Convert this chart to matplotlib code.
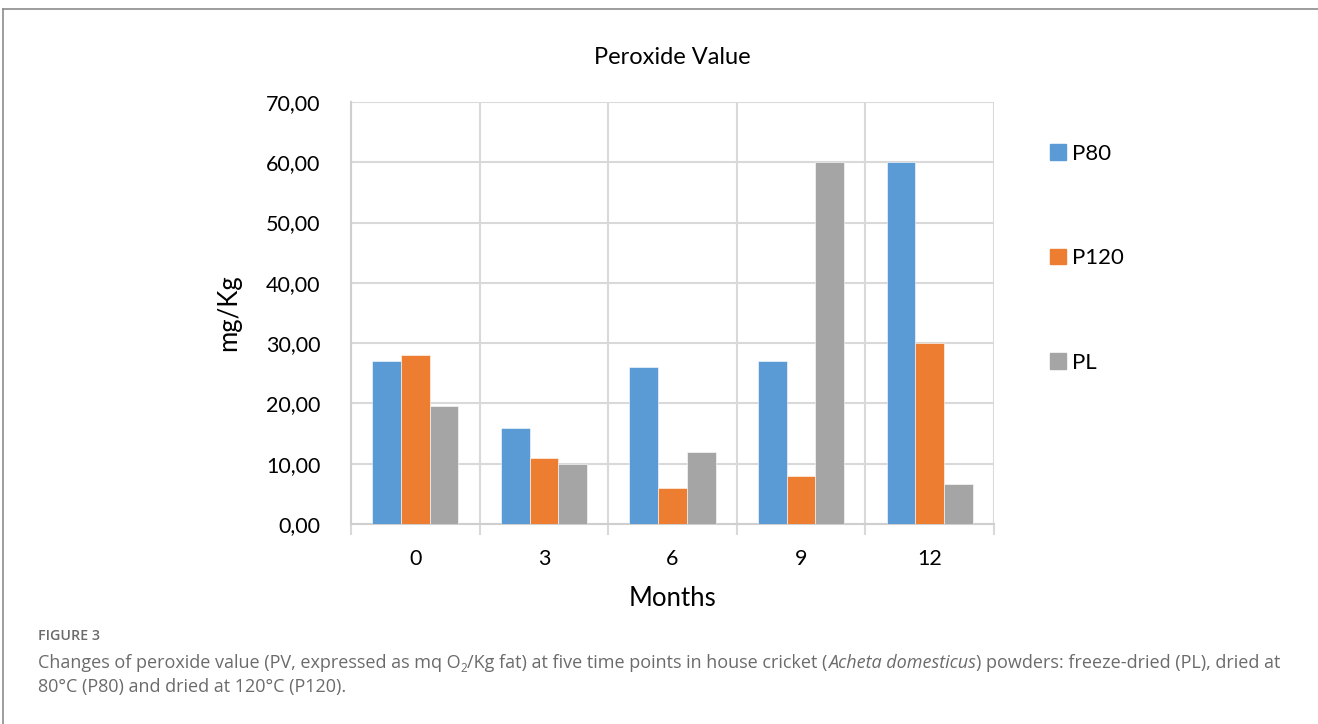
"""Peroxide value of cricket powders over 12 months of storage."""

import matplotlib

matplotlib.use("Agg")
import matplotlib.pyplot as plt
import numpy as np
from matplotlib.lines import Line2D
from matplotlib.patches import Patch

months = ["0", "3", "6", "9", "12"]
p80 = [27.0, 16.0, 26.0, 27.0, 60.0]
p120 = [28.0, 11.0, 6.0, 8.0, 30.0]
pl = [19.6, 10.0, 12.0, 60.0, 6.6]
series_names = ["P80", "P120", "PL"]
y_ticks = [0, 10, 20, 30, 40, 50, 60, 70]

COLORS = ["#5B9BD5", "#ED7D31", "#A5A5A5"]
GRID = "#D9D9D9"
CHART_FONT = ["Lato", "DejaVu Sans"]
CAPTION_FONT = ["Open Sans", "DejaVu Sans"]
CAPTION_COLOR = "#6b6b6b"

W, H = 1318, 724
fig = plt.figure(figsize=(W / 100, H / 100), dpi=100)


def px(x, y):
    return x / W, 1 - y / H


# page frame (top and left rules)
fig.add_artist(Line2D([3 / W, 1], [1 - 9 / H, 1 - 9 / H], color="#8c8c8c", lw=1.2))
fig.add_artist(Line2D([3 / W, 3 / W], [0, 1 - 9 / H], color="#8c8c8c", lw=1.2))

left, top = px(351, 102)
right, bottom = px(994, 524)
ax = fig.add_axes([left, bottom, right - left, top - bottom])

x = np.arange(len(months))
width = 0.223
for k, (name, vals) in enumerate(zip(series_names, [p80, p120, pl])):
    ax.bar(x + (k - 1) * width, vals, width, color=COLORS[k], label=name,
           edgecolor="white", linewidth=0.4, zorder=3)

ax.set_xlim(-0.5, len(months) - 0.5)
ax.set_ylim(0, 70)
ax.set_yticks(y_ticks)
ax.set_yticklabels([f"{v:.2f}".replace(".", ",") for v in y_ticks])
ax.set_xticks(x)
ax.set_xticklabels(months)
ax.tick_params(axis="both", length=0, labelsize=15.5)
ax.tick_params(axis="y", pad=22)
ax.tick_params(axis="x", pad=18)
for lab in ax.get_xticklabels() + ax.get_yticklabels():
    lab.set_family(CHART_FONT)

# category separators with small ticks below the axis
ax.set_xticks(np.arange(-0.5, len(months)), minor=True)
ax.tick_params(axis="x", which="minor", length=8, width=1.5, color=GRID)
ax.grid(axis="x", which="minor", color=GRID, lw=1.5, zorder=0)
ax.grid(axis="y", which="major", color=GRID, lw=1.5, zorder=0)
for side in ["top", "right"]:
    ax.spines[side].set_visible(False)
for side in ["left", "bottom"]:
    ax.spines[side].set_color("#CFCFCF")
    ax.spines[side].set_linewidth(1.5)

ax.set_xlabel("Months", fontsize=18.5, family=CHART_FONT, labelpad=12)
ax.set_ylabel("mg/Kg", fontsize=18.5, family=CHART_FONT, labelpad=18)
fig.text(*px(672, 57), "Peroxide Value", ha="center", va="center",
         fontsize=17, family=CHART_FONT)

handles = [Patch(color=c) for c in COLORS]
fig.legend(handles, series_names, loc="upper left", bbox_to_anchor=px(1030, 124),
           frameon=False, handlelength=0.7, handleheight=0.7, handletextpad=0.3,
           labelspacing=3.8, prop={"family": CHART_FONT, "size": 16})

# caption
fig.text(*px(38, 636), "FIGURE 3", ha="left", va="center", fontsize=10.3,
         family=CAPTION_FONT, color=CAPTION_COLOR, weight="semibold")

renderer = fig.canvas.get_renderer()


def write_runs(x0, y0, runs, size=13.0):
    """Place text runs side by side; each run is (text, style, dy)."""
    xf, yf = px(x0, y0)
    for text, style, dy in runs:
        fs = size * (0.65 if dy else 1)
        t = fig.text(xf, yf - dy / H, text, ha="left", va="baseline", fontsize=fs,
                     family=CAPTION_FONT, style=style, color=CAPTION_COLOR)
        bb = t.get_window_extent(renderer)
        xf += bb.width / W


write_runs(38, 668, [
    ("Changes of peroxide value (PV, expressed as mq O", "normal", 0),
    ("2", "normal", 4),
    ("/Kg fat) at five time points in house cricket (", "normal", 0),
    ("Acheta domesticus", "italic", 0),
    (") powders: freeze-dried (PL), dried at", "normal", 0),
])
write_runs(38, 692, [("80°C (P80) and dried at 120°C (P120).", "normal", 0)])

fig.savefig("out.png", dpi=100)
